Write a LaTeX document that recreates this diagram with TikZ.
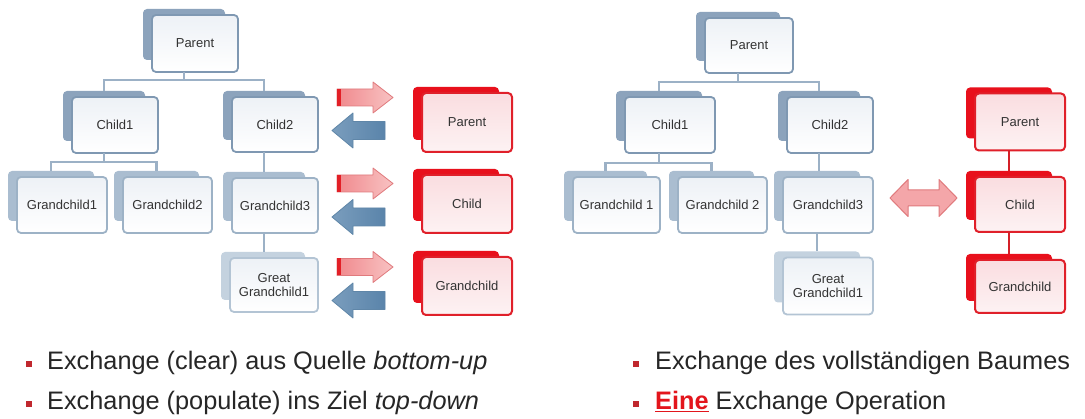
\documentclass[tikz,border=0pt]{standalone}
\usepackage{fontspec}
\setmainfont{Liberation Sans}
\usetikzlibrary{calc}
\definecolor{backA}{HTML}{8CA3BC}
\definecolor{backB}{HTML}{AABDD0}
\definecolor{backC}{HTML}{C4D2DF}
\definecolor{brdA}{HTML}{7F98B2}
\definecolor{brdB}{HTML}{9DB2C6}
\definecolor{brdC}{HTML}{B3C4D4}
\definecolor{frontTop}{HTML}{EDF1F6}
\definecolor{connC}{HTML}{9CB1C6}
\definecolor{redBack}{HTML}{E8101C}
\definecolor{redBrd}{HTML}{E0202A}
\definecolor{redTop}{HTML}{FADDE0}
\definecolor{redBot}{HTML}{FDF2F3}
\definecolor{redConn}{HTML}{D42028}
\definecolor{arrPinkL}{HTML}{F0898C}
\definecolor{arrPinkR}{HTML}{F8C2C3}
\definecolor{arrPinkB}{HTML}{E07A7D}
\definecolor{arrStripe}{HTML}{E21F26}
\definecolor{arrBlueL}{HTML}{7A9DBD}
\definecolor{arrBlueR}{HTML}{5A84AA}
\definecolor{arrBlueB}{HTML}{5F86A8}
\definecolor{bulletRed}{HTML}{C0282E}
\definecolor{eineRed}{HTML}{E3151C}
\definecolor{txt}{HTML}{262626}
\definecolor{boxTxt}{HTML}{333333}

\newcommand{\card}[8]{%
  \node[#6, minimum width={#4-4}, minimum height={#5-6}] (#1b) at ({#2-11},{#3-9}) {};
  \node[#7, minimum width=#4, minimum height=#5] (#1) at (#2,#3) {#8};
}
\newcommand{\redarrow}[2]{%
  \path[redarr] ({#1},{#2-8.5}) -- ({#1+36},{#2-8.5}) -- ({#1+36},{#2-15.5}) -- ({#1+56},{#2})
    -- ({#1+36},{#2+15.5}) -- ({#1+36},{#2+8.5}) -- ({#1},{#2+8.5}) -- cycle;
  \fill[arrStripe] ({#1},{#2-8.5}) rectangle ({#1+4},{#2+8.5});
}
\newcommand{\bluearrow}[2]{%
  \path[bluearr] ({#1},{#2}) -- ({#1+21},{#2-17.5}) -- ({#1+21},{#2-9}) -- ({#1+53},{#2-9})
    -- ({#1+53},{#2+9}) -- ({#1+21},{#2+9}) -- ({#1+21},{#2+17.5}) -- cycle;
}

\tikzset{
  cardbase/.style={inner sep=0pt, outer sep=0pt, rounded corners=4pt},
  backstyleA/.style={cardbase, fill=backA},
  backstyleB/.style={cardbase, fill=backB},
  backstyleC/.style={cardbase, fill=backC},
  backstyleR/.style={cardbase, fill=redBack},
  frontbase/.style={cardbase, line width=1.8pt, bottom color=white, top color=frontTop,
    text=boxTxt, align=center, font=\fontsize{13}{14.5}\selectfont},
  frontA/.style={frontbase, draw=brdA},
  frontB/.style={frontbase, draw=brdB},
  frontC/.style={frontbase, draw=brdC},
  frontR/.style={cardbase, line width=2pt, draw=redBrd, top color=redTop, bottom color=redBot,
    text=boxTxt, align=center, font=\fontsize{13}{14.5}\selectfont},
  conn/.style={draw=connC, line width=2.4pt},
  redconn/.style={draw=redConn, line width=2.8pt},
  redarr/.style={left color=arrPinkL, right color=arrPinkR, draw=arrPinkB, line width=0.8pt, line join=round},
  bluearr/.style={left color=arrBlueL, right color=arrBlueR, draw=arrBlueB, line width=0.8pt, line join=round},
  dblarr/.style={fill=arrPinkL!75!white, draw=arrPinkB, line width=1pt, line join=round},
  bulletsq/.style={fill=bulletRed, minimum size=5.5pt, inner sep=0pt, outer sep=0pt},
  btext/.style={anchor=base west, inner sep=0pt, text=txt, font=\fontsize{25.3}{29}\selectfont},
}

\begin{document}
\begin{tikzpicture}[x=1pt, y=-1pt]
\useasboundingbox (0,0) rectangle (1085,419);
\fill[white] (0,0) rectangle (1085,419);

% ---------- left tree ----------
\card{lp}{195}{43.5}{86}{57}{backstyleA}{frontA}{Parent}
\card{lc1}{115}{125}{86}{56}{backstyleA}{frontA}{Child1}
\card{lc2}{275}{124.5}{86}{55}{backstyleA}{frontA}{Child2}
\card{lg1}{62}{205}{90}{56}{backstyleB}{frontB}{Grandchild1}
\card{lg2}{167.5}{205}{89}{56}{backstyleB}{frontB}{Grandchild2}
\card{lg3}{275}{205.5}{86}{55}{backstyleB}{frontB}{Grandchild3}
\card{lgg}{274}{285}{88}{54}{backstyleC}{frontC}{Great\\Grandchild1}

\draw[conn] (lp.south -| lpb.center) -- ++(0,8) coordinate (lbus) -| (lc1b.north);
\draw[conn] (lbus) -| (lc2b.north);
\draw[conn] (lc1.south -| lc1b.center) -- ++(0,9) coordinate (l1bus) -| (lg1b.north);
\draw[conn] (l1bus) -| (lg2b.north);
\draw[conn] (lc2.south -| lc2b.center) -- (lg3b.north -| lc2b.center);
\draw[conn] (lg3.south -| lg3b.center) -- (lggb.north -| lg3b.center);

% ---------- left target ----------
\card{rp}{467}{122.5}{90}{59}{backstyleR}{frontR}{Parent}
\card{rc}{467}{204}{90}{58}{backstyleR}{frontR}{Child}
\card{rg}{467}{286}{90}{58}{backstyleR}{frontR}{Grandchild}

\redarrow{337}{97.5}
\bluearrow{332}{130.5}
\redarrow{337}{183.5}
\bluearrow{332}{217}
\redarrow{337}{267}
\bluearrow{332}{300.5}

% ---------- right tree ----------
\card{Rp}{749}{45.5}{88}{55}{backstyleA}{frontA}{Parent}
\card{Rc1}{670}{125}{90}{56}{backstyleA}{frontA}{Child1}
\card{Rc2}{830}{125}{86}{56}{backstyleA}{frontA}{Child2}
\card{Rg1}{616.5}{205}{87}{56}{backstyleB}{frontB}{Grandchild 1}
\card{Rg2}{722.5}{205}{89}{56}{backstyleB}{frontB}{Grandchild 2}
\card{Rg3}{828}{205}{90}{56}{backstyleB}{frontB}{Grandchild3}
\card{Rgg}{828}{286}{90}{57}{backstyleC}{frontC}{Great\\Grandchild1}

\draw[conn] (Rp.south -| Rpb.center) -- ++(0,9) coordinate (Rbus) -| (Rc1b.north);
\draw[conn] (Rbus) -| (Rc2b.north);
\draw[conn] (Rc1.south -| Rc1b.center) -- ++(0,10) coordinate (R1bus) -| (Rg1b.north);
\draw[conn] (R1bus) -| (Rg2b.north);
\draw[conn] (Rc2.south -| Rc2b.center) -- (Rg3b.north -| Rc2b.center);
\draw[conn] (Rg3.south -| Rg3b.center) -- (Rggb.north -| Rg3b.center);

% ---------- right target ----------
\card{Rrp}{1020}{122}{90}{57}{backstyleR}{frontR}{Parent}
\card{Rrc}{1020}{204.5}{90}{55}{backstyleR}{frontR}{Child}
\card{Rrg}{1020}{286.5}{90}{53}{backstyleR}{frontR}{Grandchild}
\draw[redconn] (Rrp.south -| Rrpb.center) -- (Rrcb.north);
\draw[redconn] (Rrc.south -| Rrcb.center) -- (Rrgb.north);

\path[dblarr] (890,198) -- (908,179.5) -- (908,190) -- (939,190) -- (939,179.5) -- (957,198)
  -- (939,216.5) -- (939,206) -- (908,206) -- (908,216.5) -- cycle;

% ---------- bullets ----------
\node[bulletsq] (bl1) at (29,364) {};
\node[btext] (tl1) at (47,370) {Exchange (clear) aus Quelle \textit{bottom-up}};
\node[bulletsq] (bl2) at (29,404) {};
\node[btext] (tl2) at (47,410) {Exchange (populate) ins Ziel \textit{top-down}};
\node[bulletsq] (br1) at (636,364) {};
\node[btext] (tr1) at (655,370) {Exchange des vollständigen Baumes};
\node[bulletsq] (br2) at (636,404) {};
\node[btext] (tr2) at (655,410) {{\color{eineRed}\underline{\textbf{Eine}}} Exchange Operation};
\end{tikzpicture}
\end{document}
